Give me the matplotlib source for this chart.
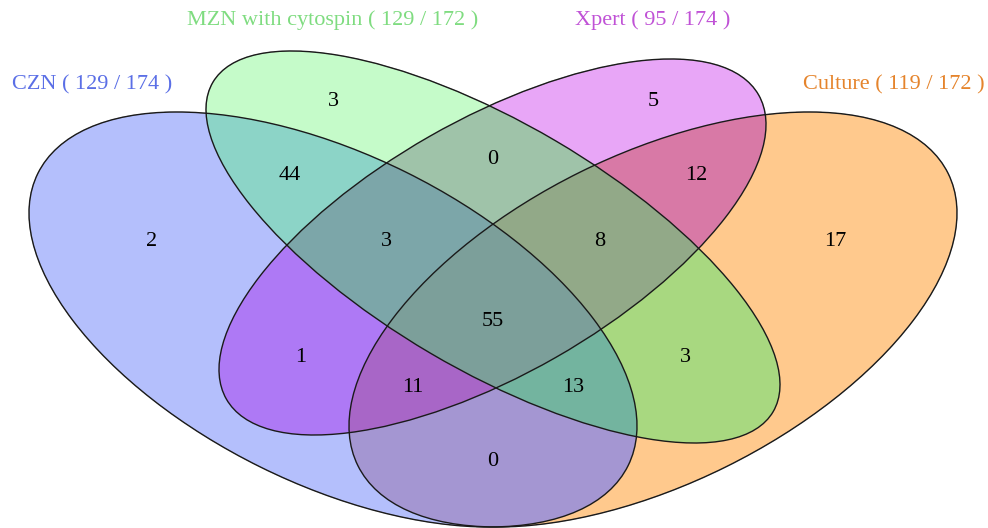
import numpy as np
import matplotlib
matplotlib.use('Agg')
import matplotlib.pyplot as plt
from matplotlib.patches import Ellipse
from matplotlib.colors import to_rgba

plt.rcParams['font.family'] = ['Liberation Serif', 'DejaVu Serif']

# sets: CZN, MZN with cytospin, Xpert, Culture
set_names = ['CZN', 'MZN with cytospin', 'Xpert', 'Culture']
set_positive = [129, 129, 95, 119]
set_total = [174, 172, 174, 172]

# region counts, keyed by membership (CZN, MZN, Xpert, Culture)
region_keys = ['1000', '0100', '0010', '0001',
               '1100', '0110', '0011', '1010', '0101', '1001',
               '1110', '0111', '1011', '1101', '1111']
region_counts = [2, 3, 5, 17,
                 44, 0, 12, 1, 3, 0,
                 3, 8, 11, 13, 55]

# layout (pixel space, y down)
W, H = 988, 528
ellipses = [
    # cx, cy, sd_x, sd_y, cov
    (333.0, 319.5, 304.0, 207.5, 32370.0),
    (493.0, 247.0, 287.0, 196.0, 39500.0),
    (492.5, 247.0, 273.5, 188.0, -33500.0),
    (653.0, 319.5, 304.0, 207.5, -32370.0),
]
label_pos = {
    '1000': (152, 242), '0100': (333, 101), '0010': (653, 101), '0001': (835, 242),
    '1100': (290, 175), '0110': (493, 160), '0011': (696, 175),
    '1010': (301, 357), '0101': (685, 357), '1001': (493, 461),
    '1110': (386, 241), '0111': (600, 241), '1011': (413, 387),
    '1101': (573, 387), '1111': (493, 322),
}
name_pos = [(92, 85), (333, 20), (653, 20), (894, 85)]
name_colors = ['#5b6fe6', '#7fdc80', '#c052d6', '#e5842c']
region_colors = {
    '1000': '#b5c0fc', '0100': '#c5fbc9', '0010': '#e8a6f8', '0001': '#ffc98d',
    '1100': '#8cd4c8', '0110': '#a0c4aa', '0011': '#d87aa6',
    '1010': '#ae7af6', '0101': '#a8d880', '1001': '#a496d2',
    '1110': '#7da6aa', '0111': '#92aa88', '1011': '#a866c8',
    '1101': '#73b4a0', '1111': '#7da09a',
}

fig = plt.figure(figsize=(W / 100, H / 100), dpi=100)
ax = fig.add_axes([0, 0, 1, 1])
ax.set_xlim(0, W)
ax.set_ylim(H, 0)
ax.axis('off')

# fill each region with its own colour
ss = 2
xs = (np.arange(W * ss) + 0.5) / ss
ys = (np.arange(H * ss) + 0.5) / ss
X, Y = np.meshgrid(xs, ys)
inside = []
for cx, cy, sx, sy, cov in ellipses:
    inv = np.linalg.inv(np.array([[sx ** 2, cov], [cov, sy ** 2]]))
    dx, dy = X - cx, Y - cy
    d = inv[0, 0] * dx * dx + 2 * inv[0, 1] * dx * dy + inv[1, 1] * dy * dy
    inside.append(d <= 1)

img = np.zeros((H * ss, W * ss, 4))
for key, col in region_colors.items():
    mask = np.ones_like(X, dtype=bool)
    for i, bit in enumerate(key):
        mask &= inside[i] if bit == '1' else ~inside[i]
    img[mask] = to_rgba(col)
ax.imshow(img, extent=(0, W, H, 0), interpolation='bilinear', zorder=1)

# outlines
for cx, cy, sx, sy, cov in ellipses:
    vals, vecs = np.linalg.eigh(np.array([[sx ** 2, cov], [cov, sy ** 2]]))
    ang = np.degrees(np.arctan2(vecs[1, 1], vecs[0, 1]))
    ax.add_patch(Ellipse((cx, cy), 2 * np.sqrt(vals[1]), 2 * np.sqrt(vals[0]),
                         angle=ang, fill=False, ec='#1a1a1a', lw=1.0, zorder=2))

for key, n in zip(region_keys, region_counts):
    x, y = label_pos[key]
    ax.text(x, y, str(n), ha='center', va='center', fontsize=16,
            color='black', zorder=3)

for name, pos, tot, (x, y), c in zip(set_names, set_positive, set_total,
                                     name_pos, name_colors):
    ax.text(x, y, f'{name} ( {pos} / {tot} )', ha='center', va='center',
            fontsize=16, color=c, zorder=3)

fig.savefig('out.png', dpi=100)
